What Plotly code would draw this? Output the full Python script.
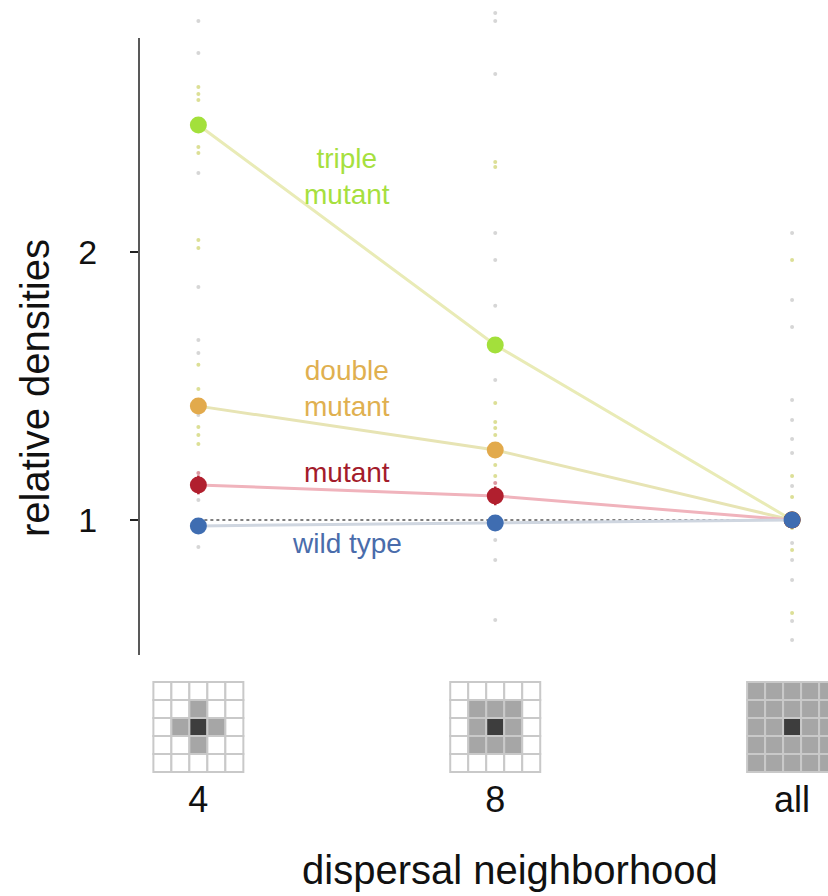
import plotly.graph_objects as go

# ---------------- data ----------------
categories = ["4", "8", "all"]
xpos = [0, 1, 2]

triple_mutant = [2.474, 1.653, 1.0]
double_mutant = [1.425, 1.261, 1.0]
mutant = [1.131, 1.090, 1.0]
wild_type = [0.978, 0.989, 1.0]

mutant_err = [0.035, 0.035, 0.03]
double_err = [0.0, 0.03, 0.0]

# replicate (individual run) values per neighborhood
rep_4 = [2.862, 2.743, 2.616, 2.590, 2.567, 2.392, 2.369, 2.295, 2.045, 2.015,
         1.869, 1.672, 1.623, 1.579, 1.489, 1.392, 1.347, 1.317, 1.284, 1.175,
         1.075, 0.899]
rep_4_tag = ["g", "g", "y", "y", "y", "y", "y", "g", "y", "y",
             "g", "g", "g", "y", "y", "g", "y", "y", "y", "r",
             "g", "g"]
rep_8 = [2.892, 2.862, 2.664, 2.336, 2.317, 2.071, 1.970, 1.799, 1.522, 1.437,
         1.366, 1.343, 1.317, 1.205, 1.164, 1.138, 0.925, 0.851, 0.627]
rep_8_tag = ["g", "g", "g", "y", "y", "g", "g", "g", "g", "y",
             "y", "y", "y", "y", "y", "r", "g", "g", "g"]
rep_all = [2.071, 1.970, 1.821, 1.720, 1.448, 1.373, 1.302, 1.250, 1.164, 1.127,
           1.086, 0.970, 0.914, 0.888, 0.851, 0.776, 0.653, 0.623, 0.552]
rep_all_tag = ["g", "y", "g", "g", "g", "g", "g", "g", "y", "g",
               "y", "y", "g", "y", "g", "g", "y", "g", "g"]

neighborhood_sizes = ["4", "8", "all"]

# y extent of the drawn axis line
axis_line_range = [0.4963, 2.7985]

# ---------------- styles ----------------
FONT = "Liberation Sans, Arial, Helvetica, sans-serif"
tag_color = {"g": "#d6d6d6", "y": "#dcdf96", "r": "#dc98a0"}

fig = go.Figure()

for i, (vals, tags) in enumerate([(rep_4, rep_4_tag), (rep_8, rep_8_tag), (rep_all, rep_all_tag)]):
    fig.add_trace(go.Scatter(
        x=[xpos[i]] * len(vals), y=vals, mode="markers",
        marker=dict(size=4, color=[tag_color[t] for t in tags]),
        cliponaxis=False, hoverinfo="skip"))

series = [
    (triple_mutant, "#e9ebb6", "#a3e03b", None),
    (double_mutant, "#e7e4b4", "#e2aa4c", double_err),
    (mutant, "#f0b3bc", "#b11f2e", mutant_err),
]
for vals, lc, mc, err in series:
    tr = go.Scatter(x=xpos, y=vals, mode="lines+markers",
                    line=dict(color=lc, width=3),
                    marker=dict(size=17, color=mc),
                    cliponaxis=False)
    if err is not None:
        tr.error_y = dict(type="data", array=err, visible=True, color=mc,
                          thickness=2.5, width=0)
    fig.add_trace(tr)

fig.add_trace(go.Scatter(x=xpos, y=[1, 1, 1], mode="lines",
                         line=dict(color="#555555", width=1.5, dash="dot")))
fig.add_trace(go.Scatter(x=xpos, y=wild_type, mode="lines+markers",
                         line=dict(color="#cfd6e0", width=3),
                         marker=dict(size=17, color="#3f6db1"),
                         cliponaxis=False))

# labels
labels = [
    ("triple<br>mutant", 0.50, 2.28, "#a6e03e"),
    ("double<br>mutant", 0.50, 1.4925, "#e0b050"),
    ("mutant", 0.50, 1.179, "#a31b2b"),
    ("wild type", 0.50, 0.914, "#4a6cab"),
]
for txt, x, y, c in labels:
    fig.add_annotation(x=x, y=y, xref="x", yref="y", text=txt, showarrow=False,
                       font=dict(family=FONT, size=28, color=c),
                       xanchor="center", yanchor="middle")

fig.add_annotation(text="relative densities", xref="paper", yref="y",
                   x=0, y=1.4925, xshift=-104, textangle=-90, showarrow=False,
                   font=dict(family=FONT, size=40, color="#111111"),
                   xanchor="center", yanchor="middle")
fig.add_annotation(text="dispersal neighborhood", xref="x", yref="paper",
                   x=1.051, y=-0.1255, showarrow=False,
                   font=dict(family=FONT, size=40, color="#111111"),
                   xanchor="center", yanchor="middle")

# y axis line (stops below the top of the plotting area)
shapes = [dict(type="line", xref="paper", yref="y", x0=0, x1=0,
               y0=axis_line_range[0], y1=axis_line_range[1],
               line=dict(color="#222222", width=1.5))]

# neighborhood icons (5x5 grids) on the lower subplot
cell = 18 / 296.9
for i, kind in enumerate(neighborhood_sizes):
    cx = xpos[i]
    for r in range(5):
        for c in range(5):
            dr, dc = r - 2, c - 2
            if dr == 0 and dc == 0:
                fill = "#3d3d3d"
            elif kind == "4" and abs(dr) + abs(dc) == 1:
                fill = "#a6a6a6"
            elif kind == "8" and max(abs(dr), abs(dc)) == 1:
                fill = "#a6a6a6"
            elif kind == "all":
                fill = "#a6a6a6"
            else:
                fill = "#ffffff"
            x0 = cx + (c - 2.5) * cell
            y0 = (4 - r) * 18
            shapes.append(dict(type="rect", xref="x", yref="y2",
                               x0=x0, x1=x0 + cell, y0=y0, y1=y0 + 18,
                               fillcolor=fill,
                               line=dict(color="#c9c9c9", width=2),
                               layer="above"))
fig.update_layout(shapes=shapes)

fig.update_layout(
    width=828, height=896,
    margin=dict(l=139, r=0, t=0, b=123),
    paper_bgcolor="white", plot_bgcolor="white",
    showlegend=False, hovermode=False,
    font=dict(family=FONT, color="#111111"),
    xaxis=dict(range=[-0.2, 2.121], anchor="y2", tickvals=xpos, ticktext=categories,
               showline=False, showgrid=False, zeroline=False, ticks="",
               tickfont=dict(size=36, family=FONT, color="#111111"),
               ticklabelstandoff=2),
    yaxis=dict(domain=[0.15265, 1.0], range=[0.4963, 2.9403], anchor="x",
               tickvals=[1, 2], ticks="outside", ticklen=8, tickwidth=1.5,
               tickcolor="#222222", showline=False,
               showgrid=False, zeroline=False,
               tickfont=dict(size=34, family=FONT, color="#111111"),
               ticklabelstandoff=26),
    yaxis2=dict(domain=[0, 0.13066], range=[-1, 100], anchor="x", visible=False),
)

fig.write_html("out.html", config={"displayModeBar": False},
               post_script="document.body.style.margin='0';document.body.style.overflow='hidden';")
